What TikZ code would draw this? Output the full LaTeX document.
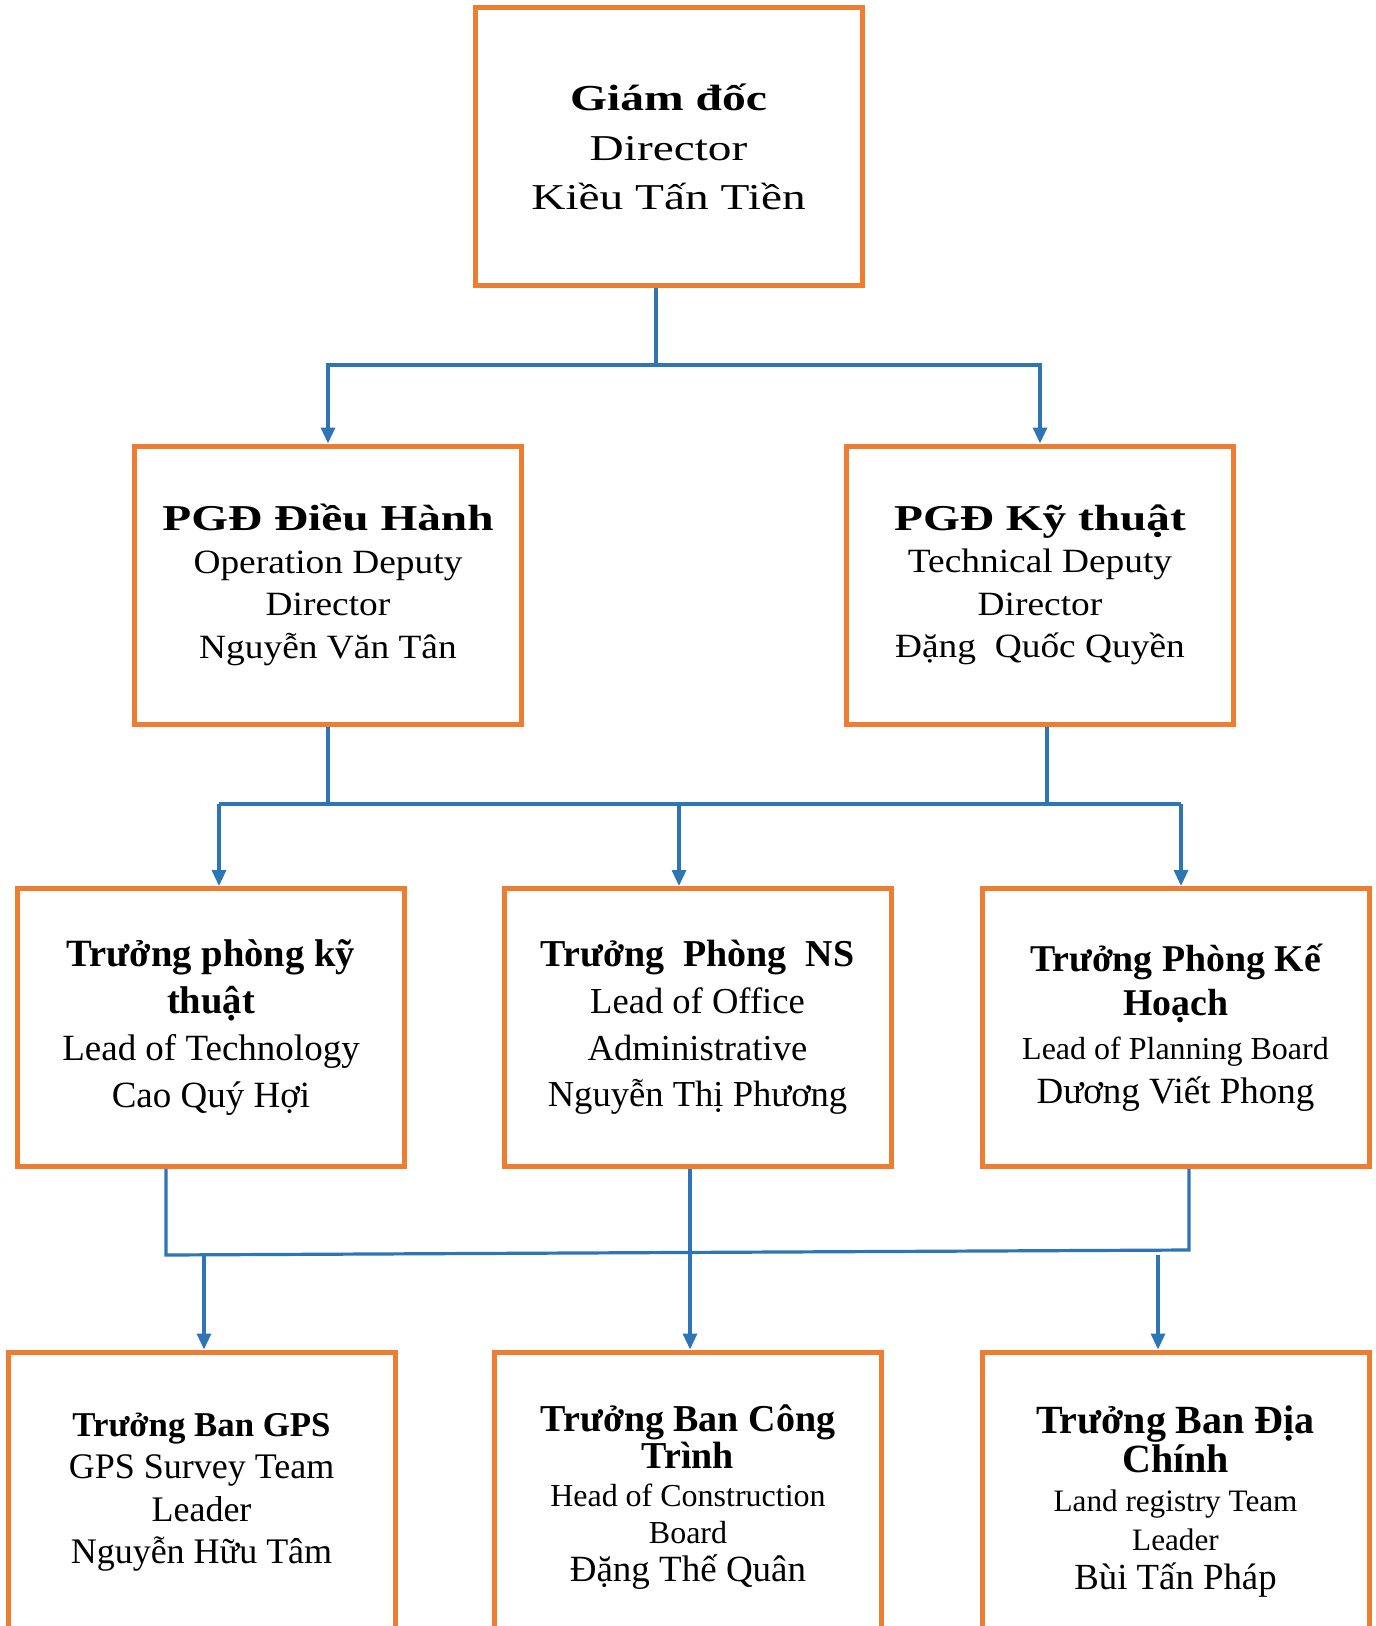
\documentclass[tikz,border=0pt]{standalone}
\usepackage{fontspec}
\setmainfont{Liberation Serif}
\newfontfamily\widefont[FakeStretch=1.3]{Liberation Serif}
\newfontfamily\midfont[FakeStretch=1.1]{Liberation Serif}
\usetikzlibrary{arrows.meta}
\definecolor{boxorange}{HTML}{ED7D31}
\definecolor{wireblue}{HTML}{2E75B6}
\newcommand\fsz[2]{\fontsize{#1}{#2}\selectfont}

\begin{document}
\begin{tikzpicture}[
	x=0.5pt, y=-0.5pt
	,unit/.style={draw=boxorange, line width=2.5pt, align=center, inner sep=0pt, minimum width=193.5pt, minimum height=#1}
	,unit/.default=139pt
	,wire/.style={draw=wireblue, line width=1.6pt}
	,feed/.style={wire, -{Triangle[width=7pt,length=8pt]}}
]
	\useasboundingbox (0,0) rectangle (1375,1626);
	\node [unit, font=\fsz{18}{24.75}] (dir) at (668.5,147) {
		\widefont\fsz{18.3}{24.75}\bfseries Giám đốc\\
		\widefont\fsz{18.2}{24.75}Director\\
		\widefont\fsz{18.2}{24.75}Kiều Tấn Tiền};
	\node [unit, font=\fsz{14}{21.25}] (ops) at (328,585) {
		\widefont\fsz{18.2}{21.25}\bfseries PGĐ Điều Hành\\
		\midfont\fsz{17}{21.25}Operation Deputy\\
		\midfont\fsz{17}{21.25}Director\\
		\midfont\fsz{17}{21.25}Nguyễn Văn Tân};
	\node [unit, font=\fsz{14}{21.25}] (tech) at (1040,585) {
		\widefont\fsz{18.2}{21.25}\bfseries PGĐ Kỹ thuật\\
		\midfont\fsz{17}{21.25}Technical Deputy\\
		\midfont\fsz{17}{21.25}Director\\
		\midfont\fsz{17}{21.25}Đặng~~Quốc Quyền};
	\node [unit, font=\fsz{18}{23.5}] (techlead) at (211,1027.5) {
		\fsz{19.3}{23.5}\bfseries Trưởng phòng kỹ\\
		\fsz{19.3}{23.5}\bfseries thuật\\
		\fsz{18.5}{23.5}Lead of Technology\\
		\fsz{18.5}{23.5}Cao Quý Hợi};
	\node [unit, font=\fsz{18}{23.3}] (office) at (697.5,1027.5) {
		\fsz{19}{23.3}\bfseries Trưởng~~Phòng~~NS\\
		\fsz{18.3}{23.3}Lead of Office\\
		\fsz{18.3}{23.3}Administrative\\
		\fsz{18.3}{23.3}Nguyễn Thị Phương};
	\node [unit, font=\fsz{17}{22}] (plan) at (1175.5,1027.5) {
		\fsz{18.9}{22}\bfseries Trưởng Phòng Kế\\
		\fsz{18.9}{22}\bfseries Hoạch\\
		\fsz{16}{22}Lead of Planning Board\\
		\fsz{18.5}{22}Dương Viết Phong};
	\node [unit=140pt, font=\fsz{18}{21.2}] (gps) at (201.5,1492) {
		\fsz{17.4}{21.2}\bfseries Trưởng Ban GPS\\
		\fsz{18}{21.2}GPS Survey Team\\
		\fsz{18}{21.2}Leader\\
		\fsz{18}{21.2}Nguyễn Hữu Tâm};
	\node [unit=145pt, font=\fsz{16}{18.75}] (cons) at (688,1497) {
		\fsz{19}{18.75}\bfseries Trưởng Ban Công\\
		\fsz{19}{18.75}\bfseries Trình\\
		\fsz{16}{18.75}Head of Construction\\
		\fsz{16}{18.75}Board\\
		\fsz{18.5}{18.75}Đặng Thế Quân};
	\node [unit=150pt, font=\fsz{15}{19.5}] (land) at (1175.5,1502) {
		\fsz{20}{19.5}\bfseries Trưởng Ban Địa\\
		\fsz{20}{19.5}\bfseries Chính\\
		\fsz{15.6}{19.5}Land registry Team\\
		\fsz{15.6}{19.5}Leader\\
		\fsz{18.4}{19.5}Bùi Tấn Pháp};

	\coordinate (j1) at (656,365);
	\draw [wire] (dir.south -| j1) -- (j1);
	\draw [feed] (j1) -| (ops.north);
	\draw [feed] (j1) -| (tech.north);

	\coordinate (j2l) at (219,804);
	\coordinate (j2m) at (679,804);
	\coordinate (j2r) at (1181,804);
	\draw [wire] (ops.south) -- (ops.south |- j2l);
	\draw [wire] ([xshift=3.5pt]tech.south) -- ([xshift=3.5pt]tech.south |- j2r);
	\draw [wire] (j2l) -- (j2r);
	\draw [feed] (j2l) -- (j2l |- techlead.north);
	\draw [feed] (j2m) -- (j2m |- office.north);
	\draw [feed] (j2r) -- (j2r |- plan.north);

	\coordinate (j3l) at (166,1255);
	\coordinate (j3r) at (1189,1250);
	\coordinate (j3a) at (204,1255);
	\coordinate (j3b) at (1158,1255);
	\draw [wire] ([xshift=-22.5pt]techlead.south) -- (j3l) -- (j3r) -- ([xshift=6.75pt]plan.south);
	\draw [feed] ([xshift=-3.75pt]office.south) -- ([xshift=-3.75pt]office.south |- cons.north);
	\draw [feed] (j3a) -- (j3a |- gps.north);
	\draw [feed] (j3b) -- (j3b |- land.north);
\end{tikzpicture}
\end{document}
